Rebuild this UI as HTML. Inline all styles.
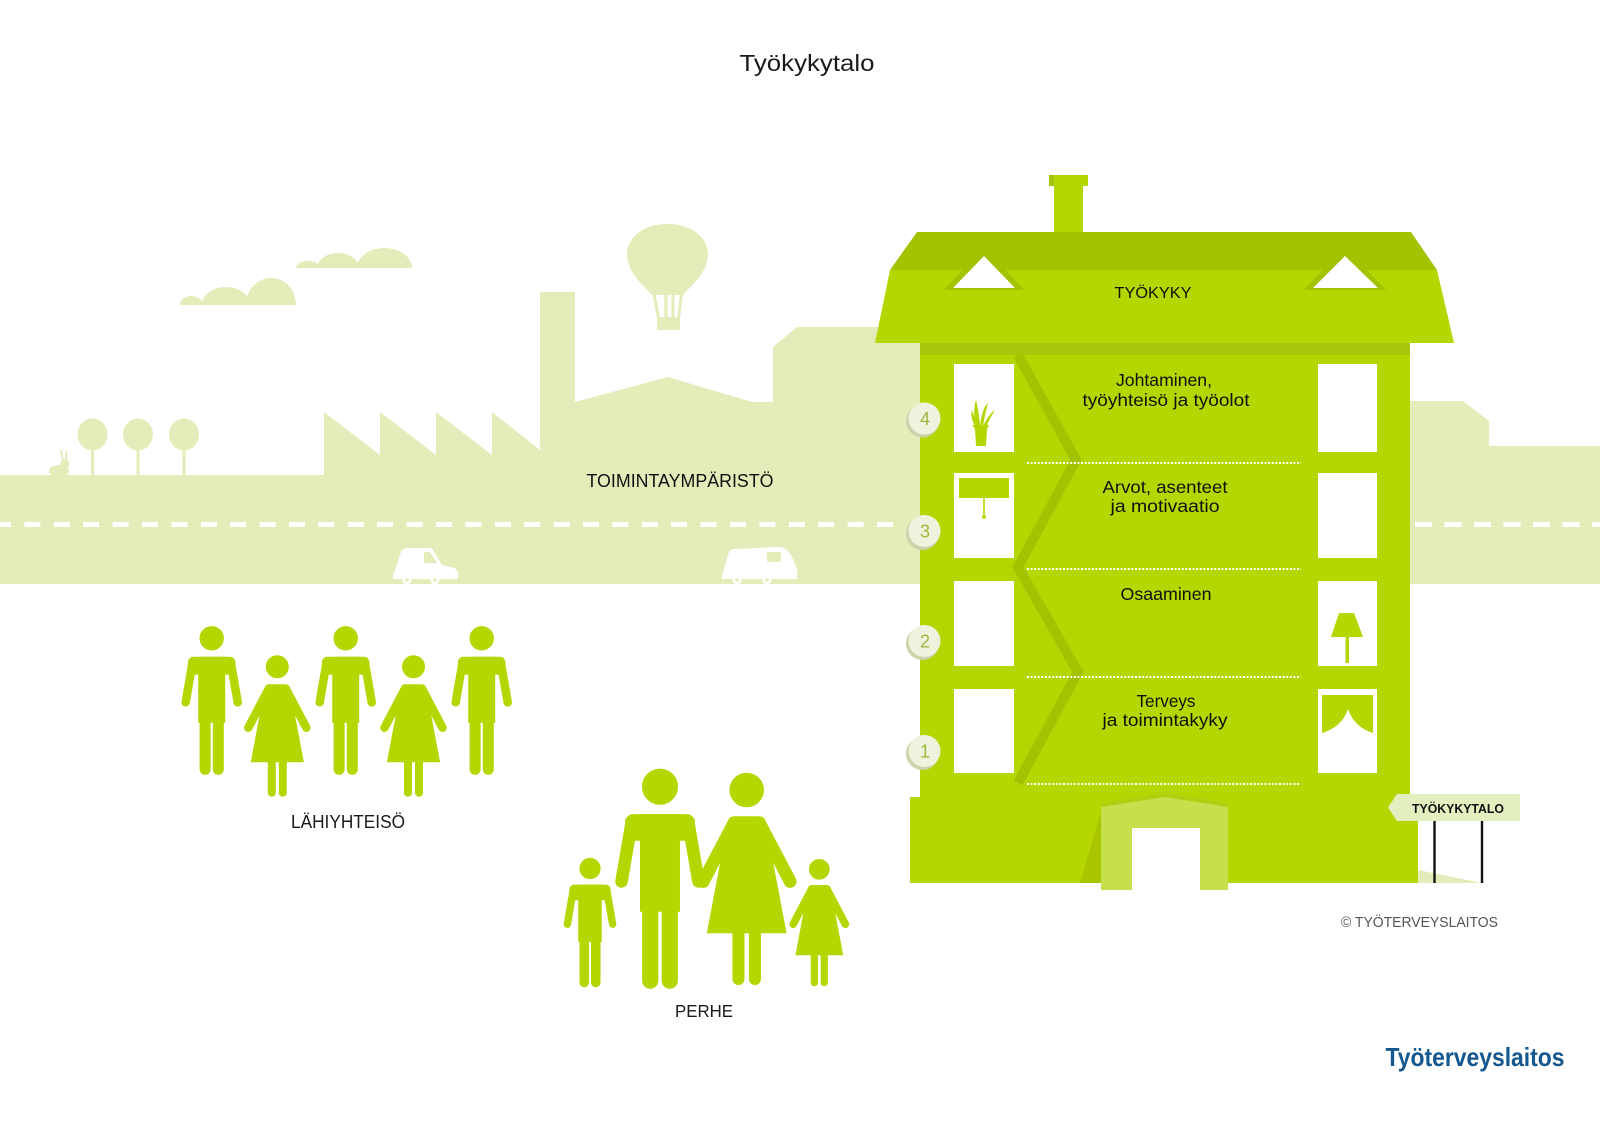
<!DOCTYPE html>
<html lang="fi">
<head>
<meta charset="utf-8">
<title>Työkykytalo</title>
<style>
  html,body{margin:0;padding:0;background:#fff;}
  svg{display:block;}
  text{font-family:"Liberation Sans", "DejaVu Sans", sans-serif;}
</style>
</head>
<body>
<svg width="1600" height="1131" viewBox="0 0 1600 1131" xmlns="http://www.w3.org/2000/svg">
  <defs>
    <g id="man">
      <circle cx="0" cy="0" r="11.7"/>
      <rect x="-13" y="19" width="26" height="65"/>
      <rect x="-23.2" y="19" width="46.4" height="17" rx="5"/>
      <line x1="-19" y1="23.5" x2="-26" y2="64" stroke-width="8.5" stroke-linecap="round"/>
      <line x1="19" y1="23.5" x2="26" y2="64" stroke-width="8.5" stroke-linecap="round"/>
      <line x1="-6.6" y1="78" x2="-6.6" y2="131" stroke-width="11" stroke-linecap="round"/>
      <line x1="6.6" y1="78" x2="6.6" y2="131" stroke-width="11" stroke-linecap="round"/>
    </g>
    <g id="woman">
      <circle cx="0" cy="0" r="11"/>
      <path d="M-8,18 H8 Q11.5,18 12,21 L26,95 H-26 L-12,21 Q-11.5,18 -8,18 Z"/>
      <line x1="-8.5" y1="22" x2="-29" y2="61" stroke-width="8.5" stroke-linecap="round"/>
      <line x1="8.5" y1="22" x2="29" y2="61" stroke-width="8.5" stroke-linecap="round"/>
      <line x1="-5.5" y1="92" x2="-5.5" y2="126" stroke-width="8" stroke-linecap="round"/>
      <line x1="5.5" y1="92" x2="5.5" y2="126" stroke-width="8" stroke-linecap="round"/>
    </g>
  </defs>

  <rect width="1600" height="1131" fill="#ffffff"/>

  <!-- Title -->
  <text x="807" y="71" font-size="23" fill="#1a1a1a" text-anchor="middle" textLength="135" lengthAdjust="spacingAndGlyphs">Työkykytalo</text>

  <!-- Background environment -->
  <g fill="#e2edb9">
    <path d="M0,475 H324 V412 L380,455 V412 L436,455 V412 L492,455 V412 L540,450 V292 H575 V402 L668,377 L752,402 H773 V347 L797,327 H930 V584 H0 Z"/>
    <path d="M1400,401 H1463 L1489,421 V446 H1600 V584 H1400 Z"/>
    <!-- clouds -->
    <path d="M180,305 A11.5,9 0 0 1 203,305 Z"/>
    <path d="M202,305 A24,18 0 0 1 250,305 Z"/>
    <path d="M246,305 A25,27 0 0 1 296,305 Z"/>
    <path d="M296,268 A12,7 0 0 1 320,268 Z"/>
    <path d="M317,268 A21,15 0 0 1 359,268 Z"/>
    <path d="M357,268 A27.5,20 0 0 1 412,268 Z"/>
    <!-- balloon -->
    <path d="M667.5,224 C692,224 708,238 708,254 C708,272 693,284 683,295 L652,295 C642,284 627,272 627,254 C627,238 643,224 667.5,224 Z"/>
    <rect x="657" y="317" width="23" height="13"/>
    <!-- trees -->
    <ellipse cx="92.5" cy="434.5" rx="15" ry="16"/>
    <ellipse cx="138" cy="434.5" rx="15" ry="16"/>
    <ellipse cx="184" cy="434.5" rx="15" ry="16"/>
    <rect x="91" y="448" width="3" height="28"/>
    <rect x="136.5" y="448" width="3" height="28"/>
    <rect x="182.5" y="448" width="3" height="28"/>
    <!-- rabbit -->
    <ellipse cx="59" cy="471" rx="10" ry="6"/>
    <circle cx="65" cy="464" r="4.5"/>
  </g>
  <g stroke="#e2edb9" stroke-width="2">
    <line x1="63" y1="462" x2="61" y2="450"/>
    <line x1="66" y1="462" x2="66.5" y2="451"/>
  </g>
  <!-- balloon ropes -->
  <g stroke="#e2edb9" stroke-width="3">
    <line x1="654" y1="294" x2="658.5" y2="318"/>
    <line x1="666" y1="294" x2="666" y2="318"/>
    <line x1="673" y1="294" x2="673" y2="318"/>
    <line x1="681.5" y1="294" x2="678.5" y2="318"/>
  </g>

  <text x="680" y="487" font-size="18" fill="#111" text-anchor="middle" textLength="187" lengthAdjust="spacingAndGlyphs">TOIMINTAYMPÄRISTÖ</text>

  <!-- road dashes -->
  <line x1="-5" y1="524.5" x2="897" y2="524.5" stroke="#ffffff" stroke-width="5" stroke-dasharray="16 13.4"/>
  <line x1="1415" y1="524.5" x2="1600" y2="524.5" stroke="#ffffff" stroke-width="5" stroke-dasharray="17 12.5"/>

  <!-- cars -->
  <g fill="#ffffff">
    <path d="M393,576 L401,552 Q403,548 407,548 L430,548 Q432,548 433,550 L442,565 L454,568 Q459,570 458,576 L458,579 L393,579 Z"/>
    <circle cx="407" cy="580" r="4.5"/>
    <circle cx="435" cy="580" r="4.5"/>
    <path d="M722,576 L729,552 Q730,549 735,549 L778,547 Q786,547 791,555 L796,566 Q798,571 797,576 L797,579 L722,579 Z"/>
    <circle cx="737" cy="580" r="4.5"/>
    <circle cx="767" cy="580" r="4.5"/>
  </g>
  <g fill="#e2edb9">
    <path d="M424,552 L430,552 L437,563 L424,563 Z"/>
    <circle cx="407" cy="580" r="1.8"/>
    <circle cx="435" cy="580" r="1.8"/>
    <rect x="767" y="552" width="14" height="10" rx="2"/>
    <circle cx="737" cy="580" r="1.8"/>
    <circle cx="767" cy="580" r="1.8"/>
  </g>

  <!-- ===== Building ===== -->
  <!-- chimney -->
  <rect x="1054" y="184" width="29" height="62" fill="#b5d600"/>
  <rect x="1049" y="175" width="39" height="11" fill="#b5d600"/>
  <rect x="1049" y="175" width="5" height="11" fill="#a6c400"/>
  <!-- roof -->
  <polygon points="917,232 1411,232 1437,270 890,270" fill="#a4c200"/>
  <polygon points="890,270 1437,270 1454,343 875,343" fill="#b5d600"/>
  <!-- dormers -->
  <polygon points="944,290 984,246 1024,290" fill="#a4c200"/>
  <polygon points="953,288 984,256 1015,288" fill="#ffffff"/>
  <polygon points="1304,290 1344,246 1386,290" fill="#a4c200"/>
  <polygon points="1313,288 1345,256 1378,288" fill="#ffffff"/>
  <text x="1153" y="298" font-size="16" fill="#111" text-anchor="middle" textLength="77" lengthAdjust="spacingAndGlyphs">TYÖKYKY</text>

  <!-- body -->
  <rect x="920" y="343" width="490" height="460" fill="#b5d600"/>
  <rect x="920" y="343" width="490" height="12" fill="#a8c70c"/>
  <!-- base -->
  <rect x="910" y="797" width="508" height="86" fill="#b5d600"/>

  <!-- zigzag stair -->
  <polyline points="1018,355 1076,460 1018,567 1078,672 1018,783" fill="none" stroke="#a3c300" stroke-width="10" stroke-linejoin="miter"/>

  <!-- dotted floor lines -->
  <g stroke="#ffffff" stroke-width="2" stroke-dasharray="2 1.6">
    <line x1="1027" y1="463" x2="1301" y2="463"/>
    <line x1="1027" y1="569" x2="1301" y2="569"/>
    <line x1="1027" y1="677" x2="1301" y2="677"/>
    <line x1="1027" y1="784" x2="1301" y2="784"/>
  </g>

  <!-- windows -->
  <g fill="#ffffff">
    <rect x="954" y="364" width="60" height="88"/>
    <rect x="954" y="473" width="60" height="85"/>
    <rect x="954" y="581" width="60" height="85"/>
    <rect x="954" y="689" width="60" height="84"/>
    <rect x="1318" y="364" width="59" height="88"/>
    <rect x="1318" y="473" width="59" height="85"/>
    <rect x="1318" y="581" width="59" height="85"/>
    <rect x="1318" y="689" width="59" height="84"/>
  </g>

  <!-- window details -->
  <g fill="#b5d600">
    <!-- plant -->
    <path d="M972,425 H989 L987,429 L986,446 H976 L975,429 Z"/>
    <path d="M977,426 Q972,412 976,400 Q979,412 980,426 Z"/>
    <path d="M980,426 Q982,408 988,403 Q985,414 983,426 Z"/>
    <path d="M983,426 Q989,414 995,410 Q990,418 986,427 Z"/>
    <path d="M975,426 Q970,418 972,410 Q975,418 978,426 Z"/>
    <!-- blind -->
    <rect x="959" y="478" width="50" height="20"/>
    <rect x="983.2" y="498" width="1.6" height="18"/>
    <circle cx="984" cy="517" r="2"/>
    <!-- lamp -->
    <polygon points="1339,613 1354,613 1363,637 1331,637"/>
    <rect x="1345.5" y="636" width="3.5" height="27"/>
    <!-- curtains -->
    <path d="M1322,695 H1373 V733 Q1354,727 1348,709 Q1342,727 1322,733 Z"/>
  </g>

  <!-- door -->
  <polygon points="1080,883 1101,812 1101,883" fill="#a8c500"/>
  <polygon points="1101,803 1165,793 1228,803 1228,890 1101,890" fill="#c5e04c"/>
  <polygon points="1101,803 1165,793 1228,803 1228,807 1165,797 1101,807" fill="#b0cf10"/>
  <rect x="1132" y="828" width="68" height="62" fill="#ffffff"/>

  <!-- floor labels -->
  <g font-size="17.5" fill="#111" text-anchor="middle">
    <text x="1164" y="386" textLength="96" lengthAdjust="spacingAndGlyphs">Johtaminen,</text>
    <text x="1166" y="406" textLength="167" lengthAdjust="spacingAndGlyphs">työyhteisö ja työolot</text>
    <text x="1165" y="493" textLength="125" lengthAdjust="spacingAndGlyphs">Arvot, asenteet</text>
    <text x="1165" y="512" textLength="109" lengthAdjust="spacingAndGlyphs">ja motivaatio</text>
    <text x="1166" y="600" textLength="91" lengthAdjust="spacingAndGlyphs">Osaaminen</text>
    <text x="1166" y="707" textLength="59" lengthAdjust="spacingAndGlyphs">Terveys</text>
    <text x="1165" y="726" textLength="125" lengthAdjust="spacingAndGlyphs">ja toimintakyky</text>
  </g>

  <!-- numbered circles -->
  <g>
    <circle cx="922.5" cy="421" r="16.5" fill="#cdd2ab"/>
    <circle cx="924.5" cy="418.5" r="16" fill="#eff3de"/>
    <circle cx="922.5" cy="533.5" r="16.5" fill="#cdd2ab"/>
    <circle cx="924.5" cy="531" r="16" fill="#eff3de"/>
    <circle cx="922.5" cy="643.5" r="16.5" fill="#cdd2ab"/>
    <circle cx="924.5" cy="641" r="16" fill="#eff3de"/>
    <circle cx="922.5" cy="753.5" r="16.5" fill="#cdd2ab"/>
    <circle cx="924.5" cy="751" r="16" fill="#eff3de"/>
  </g>
  <g font-size="18" fill="#9cb83e" text-anchor="middle">
    <text x="925" y="425">4</text>
    <text x="925" y="537.5">3</text>
    <text x="925" y="647.5">2</text>
    <text x="925" y="757.5">1</text>
  </g>

  <!-- sign -->
  <polygon points="1418,870 1482,883 1418,883" fill="#e2edb9"/>
  <polygon points="1388,807.5 1397,794 1520,794 1520,821 1397,821" fill="#e4efc0"/>
  <text x="1458" y="813" font-size="12.5" font-weight="bold" fill="#111" text-anchor="middle" textLength="92" lengthAdjust="spacingAndGlyphs">TYÖKYKYTALO</text>
  <line x1="1434.5" y1="821" x2="1434.5" y2="883" stroke="#111" stroke-width="2.4"/>
  <line x1="1482" y1="821" x2="1482" y2="883" stroke="#111" stroke-width="2.4"/>

  <text x="1419.5" y="927" font-size="14.5" fill="#555" text-anchor="middle" textLength="157" lengthAdjust="spacingAndGlyphs">© TYÖTERVEYSLAITOS</text>

  <!-- community -->
  <g fill="#b5d600" stroke="#b5d600">
    <use href="#man" transform="translate(211.7,638.3)"/>
    <use href="#woman" transform="translate(277.3,666.7)"/>
    <use href="#man" transform="translate(345.7,638.3)"/>
    <use href="#woman" transform="translate(413.5,666.7)"/>
    <use href="#man" transform="translate(481.7,638.3)"/>
  </g>
  <text x="348" y="828" font-size="18" fill="#1a1a1a" text-anchor="middle" textLength="114" lengthAdjust="spacingAndGlyphs">LÄHIYHTEISÖ</text>

  <!-- family -->
  <g fill="#b5d600" stroke="#b5d600">
    <use href="#man" transform="translate(590,868.5) scale(0.87)"/>
    <use href="#man" transform="translate(660,786.7) scale(1.48)"/>
    <use href="#woman" transform="translate(746.7,790) scale(1.5)"/>
    <use href="#woman" transform="translate(819.3,869.3) scale(0.9)"/>
  </g>
  <text x="704" y="1017" font-size="17.5" fill="#1a1a1a" text-anchor="middle" textLength="58" lengthAdjust="spacingAndGlyphs">PERHE</text>

  <!-- logo -->
  <text x="1475" y="1066" font-size="26" font-weight="bold" fill="#15578f" text-anchor="middle" textLength="179" lengthAdjust="spacingAndGlyphs">Työterveyslaitos</text>
</svg>
</body>
</html>
